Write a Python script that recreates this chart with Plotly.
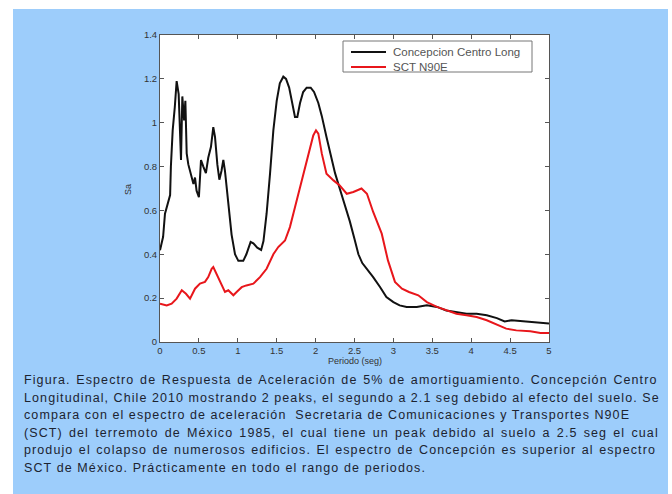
import plotly.graph_objects as go

# ---------------- data ----------------
conc_x = [0, 0.04, 0.064, 0.107, 0.13, 0.14, 0.163, 0.19, 0.214, 0.24, 0.257, 0.27, 0.287, 0.31,
          0.326, 0.343, 0.364, 0.394, 0.43, 0.45, 0.47, 0.50, 0.527, 0.557, 0.59, 0.62, 0.655,
          0.685, 0.707, 0.737, 0.763, 0.79, 0.814, 0.835, 0.878, 0.92, 0.964, 1.007, 1.07, 1.11,
          1.165, 1.2, 1.25, 1.3, 1.33, 1.37, 1.414, 1.457, 1.5, 1.54, 1.585, 1.62, 1.66, 1.70,
          1.735, 1.765, 1.80, 1.84, 1.885, 1.937, 1.98, 2.035, 2.08, 2.14, 2.185, 2.25, 2.31,
          2.38, 2.44, 2.5, 2.55, 2.6, 2.66, 2.74, 2.83, 2.91, 3.0, 3.08, 3.17, 3.3, 3.43, 3.56,
          3.68, 3.81, 3.94, 4.07, 4.2, 4.33, 4.43, 4.52, 4.63, 4.76, 4.89, 5.0]
conc_y = [0.418, 0.48, 0.585, 0.646, 0.67, 0.80, 0.965, 1.07, 1.19, 1.13, 0.965, 0.83, 1.12, 1.01,
          1.10, 0.86, 0.81, 0.77, 0.72, 0.75, 0.69, 0.66, 0.83, 0.80, 0.77, 0.84, 0.89,
          0.98, 0.935, 0.81, 0.74, 0.78, 0.83, 0.78, 0.615, 0.49, 0.40, 0.37, 0.37, 0.40,
          0.456, 0.45, 0.43, 0.42, 0.46, 0.585, 0.767, 0.965, 1.10, 1.18, 1.21, 1.20, 1.16, 1.09,
          1.026, 1.026, 1.09, 1.14, 1.16, 1.16, 1.14, 1.09, 1.03, 0.935, 0.87, 0.77, 0.70,
          0.62, 0.55, 0.47, 0.40, 0.36, 0.334, 0.296, 0.25, 0.205, 0.182, 0.167, 0.16, 0.16, 0.167, 0.16,
          0.144, 0.137, 0.129, 0.129, 0.122, 0.109, 0.094, 0.099, 0.096, 0.091, 0.087, 0.084]

sct_x = [0, 0.086, 0.15, 0.214, 0.28, 0.334, 0.386, 0.45, 0.514, 0.578, 0.62, 0.664, 0.685, 0.728,
         0.78, 0.835, 0.878, 0.943, 0.985, 1.05, 1.11, 1.2, 1.285, 1.37, 1.457, 1.52, 1.607, 1.67,
         1.735, 1.8, 1.864, 1.92, 1.97, 2.005, 2.035, 2.08, 2.14, 2.23, 2.31, 2.4, 2.485, 2.59,
         2.66, 2.74, 2.85, 2.93, 3.02, 3.11, 3.2, 3.32, 3.43, 3.56, 3.68, 3.81, 3.94, 4.07, 4.2,
         4.33, 4.45, 4.58, 4.76, 4.89, 5.0]
sct_y = [0.175, 0.167, 0.175, 0.198, 0.236, 0.22, 0.198, 0.243, 0.266, 0.274, 0.296, 0.334, 0.342, 0.31,
         0.266, 0.228, 0.236, 0.213, 0.228, 0.25, 0.258, 0.266, 0.296, 0.334, 0.40, 0.433, 0.463, 0.524,
         0.615, 0.707, 0.80, 0.874, 0.942, 0.965, 0.95, 0.859, 0.767, 0.737, 0.714, 0.676, 0.684, 0.70,
         0.676, 0.593, 0.494, 0.372, 0.274, 0.243, 0.228, 0.213, 0.182, 0.16, 0.144, 0.129, 0.122, 0.114, 0.099,
         0.081, 0.061, 0.053, 0.049, 0.041, 0.041]

series_names = ["Concepcion Centro Long", "SCT N90E"]
series_colors = ["#111111", "#e8161b"]

x_ticks = [0, 0.5, 1, 1.5, 2, 2.5, 3, 3.5, 4, 4.5, 5]
x_ticklabels = ["0", "0.5", "1", "1.5", "2", "2.5", "3", "3.5", "4", "4.5", "5"]
y_ticks = [0, 0.2, 0.4, 0.6, 0.8, 1.0, 1.2, 1.4]
y_ticklabels = ["0", "0.2", "0.4", "0.6", "0.8", "1", "1.2", "1.4"]

caption_lines = [
    "Figura. Espectro de Respuesta de Aceleración de 5% de amortiguamiento. Concepción Centro",
    "Longitudinal, Chile 2010 mostrando 2 peaks, el segundo a 2.1 seg debido al efecto del suelo. Se",
    "compara con el espectro de aceleración  Secretaria de Comunicaciones y Transportes N90E",
    "(SCT) del terremoto de México 1985, el cual tiene un peak debido al suelo a 2.5 seg el cual",
    "produjo el colapso de numerosos edificios. El espectro de Concepción es superior al espectro",
    "SCT de México. Prácticamente en todo el rango de periodos.",
]
# style only: extra word spacing (px) per caption line to mimic the justified paragraph
caption_word_spacing = [1.1, -0.2, -0.2, 1.6, 0.9, 0]

# ---------------- layout geometry (pixels) ----------------
W, H = 672, 494
L, R, T, B = 160, 549, 35, 342


def px(xp):
    return (xp - L) / (R - L)


def py(yp):
    return (B - yp) / (B - T)


fig = go.Figure()
fig.add_trace(go.Scatter(x=conc_x, y=conc_y, mode="lines", name=series_names[0],
                         line=dict(color=series_colors[0], width=2)))
fig.add_trace(go.Scatter(x=sct_x, y=sct_y, mode="lines", name=series_names[1],
                         line=dict(color=series_colors[1], width=2)))

shapes = [
    dict(type="rect", xref="paper", yref="paper", x0=px(13), x1=px(668), y0=py(494), y1=py(9),
         fillcolor="#9dcdfb", line=dict(width=0), layer="below"),
    dict(type="rect", xref="paper", yref="paper", x0=0, x1=1, y0=0, y1=1,
         fillcolor="white", line=dict(width=0), layer="below"),
    # legend box
    dict(type="rect", xref="paper", yref="paper", x0=px(343), x1=px(532), y0=py(72), y1=py(41),
         fillcolor="white", line=dict(color="#777777", width=1), layer="above"),
]

annotations = [
    dict(text="Periodo (seg)", xref="paper", yref="paper", x=px(355), y=py(368),
         showarrow=False, font=dict(family="Liberation Sans", size=9, color="#333333")),
    dict(text="Sa", xref="paper", yref="paper", x=px(121), y=py(190), textangle=-90,
         showarrow=False, font=dict(family="Liberation Sans", size=9, color="#333333")),
]
# legend entries
for i, (nm, col) in enumerate(zip(series_names, series_colors)):
    yy = 52 + 15 * i
    shapes.append(dict(type="line", xref="paper", yref="paper", x0=px(351), x1=px(386),
                       y0=py(yy), y1=py(yy), line=dict(color=col, width=2), layer="above"))
    annotations.append(dict(text=nm, xref="paper", yref="paper", x=px(391), y=py(yy),
                            xanchor="left", yanchor="middle", showarrow=False,
                            font=dict(family="Liberation Sans", size=11.5, color="#555555")))

line_y = [380, 397.5, 415, 432.5, 450, 467.5]
for t, yy, ws in zip(caption_lines, line_y, caption_word_spacing):
    annotations.append(dict(text="<span style='letter-spacing:1.1px;word-spacing:%.1fpx'>%s</span>" % (ws, t),
                            xref="paper", yref="paper", x=px(22), y=py(yy),
                            xanchor="left", yanchor="middle", showarrow=False,
                            font=dict(family="Liberation Sans", size=12.5, color="#1c2330")))

axis_common = dict(showline=True, linecolor="#555555", linewidth=1, mirror="ticks",
                   ticks="inside", ticklen=4, tickcolor="#555555", showgrid=False, zeroline=False,
                   tickfont=dict(family="Liberation Sans", size=9.5, color="#333333"))

fig.update_layout(
    width=W, height=H,
    margin=dict(l=L, r=W - R, t=T, b=H - B, pad=0),
    paper_bgcolor="white", plot_bgcolor="rgba(0,0,0,0)",
    xaxis=dict(range=[0, 5], tickvals=x_ticks, ticktext=x_ticklabels, **axis_common),
    yaxis=dict(range=[0, 1.4], tickvals=y_ticks, ticktext=y_ticklabels, **axis_common),
    showlegend=False,
    shapes=shapes,
    annotations=annotations,
)

fig.write_html("out.html")
